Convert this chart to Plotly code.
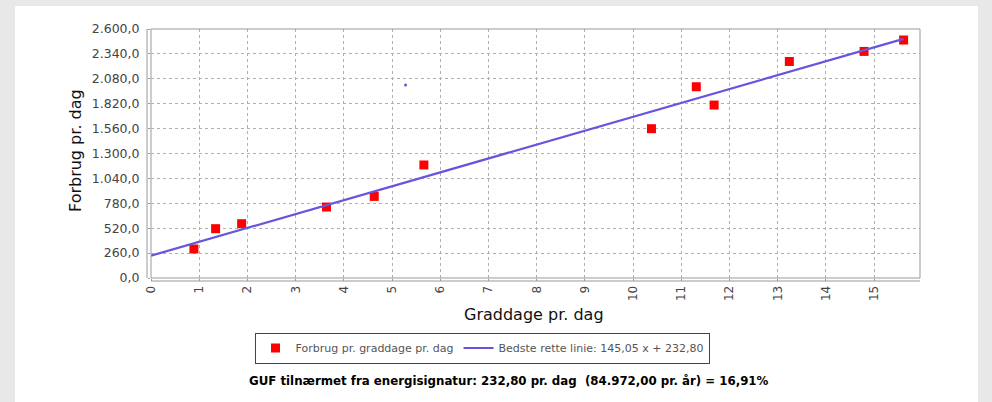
import plotly.graph_objects as go

# ---- data ----
graddage = [0.89, 1.34, 1.88, 3.64, 4.63, 5.66, 10.38, 11.31, 11.68, 13.24, 14.79, 15.61]
forbrug = [303, 515, 567, 741, 852, 1180, 1559, 1997, 1806, 2261, 2366, 2485]
slope = 145.05
intercept = 232.80
line_x = [0.0, 15.61]
stray_x = [5.28]
stray_y = [2015]
y_ticks = [0, 260, 520, 780, 1040, 1300, 1560, 1820, 2080, 2340, 2600]
x_ticks = list(range(0, 16))
x_range = [0, 15.95]
y_range = [0, 2600]

line_y = [slope * v + intercept for v in line_x]

FONT = "DejaVu Sans"
GRAY = "#444444"

fig = go.Figure()
fig.add_trace(go.Scatter(
    x=graddage, y=forbrug, mode="markers",
    name="Forbrug pr. graddage pr. dag",
    marker=dict(symbol="square", size=9, color="#ff0000"),
))
fig.add_trace(go.Scatter(
    x=line_x, y=line_y, mode="lines",
    name="Bedste rette linie: 145,05 x + 232,80",
    line=dict(color="#6655dd", width=2.2),
))
fig.add_trace(go.Scatter(
    x=stray_x, y=stray_y, mode="markers", showlegend=False,
    marker=dict(size=3, color="#5a5ad0"),
))

W, H = 992, 402
L, R, T, B = 151, 920, 29, 278
pw, ph = R - L, B - T


def px(x):
    return (x - L) / pw


def py(y):
    return (B - y) / ph


shapes = [
    # white panel
    dict(type="rect", xref="paper", yref="paper", x0=px(15), x1=px(978),
         y0=py(402), y1=py(6), fillcolor="white", line=dict(width=0), layer="below"),
    # plot border
    dict(type="rect", xref="paper", yref="paper", x0=0, x1=1, y0=0, y1=1,
         line=dict(color="#999999", width=1)),
    # offset axis lines
    dict(type="line", xref="paper", yref="paper", x0=0, x1=1, y0=py(281), y1=py(281),
         line=dict(color="#999999", width=1)),
    dict(type="line", xref="paper", yref="paper", x0=px(147), x1=px(147), y0=0, y1=1,
         line=dict(color="#999999", width=1)),
]

annotations = [
    dict(text="Forbrug pr. dag", xref="paper", yref="paper", x=px(75), y=py(151),
         textangle=-90, showarrow=False, xanchor="center", yanchor="middle",
         font=dict(family=FONT, size=16, color="#111111")),
    dict(text="Graddage pr. dag", xref="paper", yref="paper", x=px(534), y=py(314),
         showarrow=False, xanchor="center", yanchor="middle",
         font=dict(family=FONT, size=16, color="#111111")),
    dict(text="<b>GUF tilnærmet fra energisignatur: 232,80 pr. dag \u00a0(84.972,00 pr. år) = 16,91%</b>",
         xref="paper", yref="paper", x=px(509), y=py(381),
         showarrow=False, xanchor="center", yanchor="middle",
         font=dict(family=FONT, size=11.8, color="#000000")),
]

fig.update_layout(
    width=W, height=H,
    margin=dict(l=L, r=W - R, t=T, b=H - B),
    paper_bgcolor="#e8e8e8",
    plot_bgcolor="white",
    separators=",.",
    font=dict(family=FONT, size=12, color=GRAY),
    shapes=shapes,
    annotations=annotations,
    showlegend=True,
    legend=dict(
        orientation="h", x=px(482), y=py(348), xanchor="center", yanchor="middle",
        bordercolor="#444444", borderwidth=1, bgcolor="white",
        font=dict(family=FONT, size=11, color="#555555"),
        itemwidth=30, tracegroupgap=0,
    ),
    xaxis=dict(
        range=x_range, tickvals=x_ticks, ticktext=[str(v) for v in x_ticks],
        tickangle=-90, showgrid=True, gridcolor="#b0b0b0", griddash="dot",
        zeroline=False, showline=False, ticks="outside", ticklen=2,
        tickcolor="#999999", tickfont=dict(family=FONT, size=12, color=GRAY),
    ),
    yaxis=dict(
        range=y_range, tickvals=y_ticks, tickformat=",.1f",
        showgrid=True, gridcolor="#b0b0b0", griddash="dot",
        zeroline=False, showline=False, ticks="outside", ticklen=2,
        tickcolor="#999999", tickfont=dict(family=FONT, size=12.5, color=GRAY),
        ticklabelstandoff=6,
    ),
)

fig.write_html("out.html", config={"displayModeBar": False},
               post_script="document.body.style.margin='0';")
